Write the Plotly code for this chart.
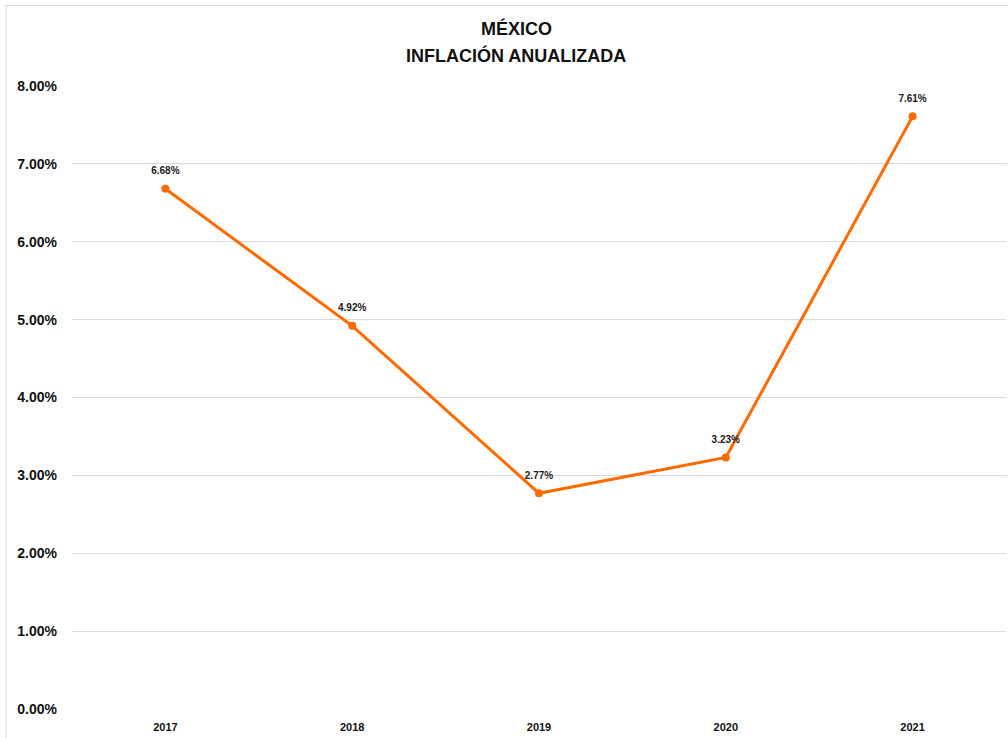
import plotly.graph_objects as go

years = ["2017", "2018", "2019", "2020", "2021"]
inflation = [6.68, 4.92, 2.77, 3.23, 7.61]
y_ticks = [0, 1, 2, 3, 4, 5, 6, 7, 8]
y_tick_labels = ["0.00%", "1.00%", "2.00%", "3.00%", "4.00%", "5.00%", "6.00%", "7.00%", "8.00%"]
title_lines = ["MÉXICO", "INFLACIÓN ANUALIZADA"]

W, H = 1008, 738
L, R, T, B = 72, 2, 86, 29
pw, ph = W - L - R, H - T - B

font = "Liberation Sans, Arial, sans-serif"
orange = "#FF6A00"

fig = go.Figure()
fig.add_trace(go.Scatter(
    x=years, y=inflation,
    mode="lines+markers",
    line=dict(color=orange, width=3),
    marker=dict(color=orange, size=8),
    cliponaxis=False,
    hoverinfo="skip",
))
# data labels (transparent large markers push the text upwards)
fig.add_trace(go.Scatter(
    x=years, y=inflation,
    mode="markers+text",
    marker=dict(color="rgba(0,0,0,0)", size=18),
    text=[f"<b>{v:.2f}%</b>" for v in inflation],
    textposition="top center",
    textfont=dict(family=font, size=10, color="#1a1a1a"),
    cliponaxis=False,
    hoverinfo="skip",
))

annotations = []
for i, line in enumerate(title_lines):
    annotations.append(dict(
        x=(516 - L) / pw, xref="paper", xanchor="center",
        y=1 + (T - (29 + 27 * i)) / ph, yref="paper", yanchor="middle",
        text=f"<b>{line}</b>", showarrow=False,
        font=dict(family=font, size=18, color="#111111"),
    ))

fig.update_layout(
    width=W, height=H,
    margin=dict(l=L, r=R, t=T, b=B),
    paper_bgcolor="white", plot_bgcolor="white",
    showlegend=False,
    xaxis=dict(
        type="category", range=[-0.5, 4.5],
        showgrid=False, zeroline=False, showline=False,
        ticks="", tickfont=dict(family=font, size=11, color="#111111", weight="bold"),
        ticklabelstandoff=10,
    ),
    yaxis=dict(
        range=[0, 8], tickvals=y_ticks, ticktext=y_tick_labels,
        showgrid=True, gridcolor="#D9D9D9", gridwidth=1,
        zeroline=False, showline=False, ticks="",
        tickfont=dict(family=font, size=14, color="#111111", weight="bold"),
        ticklabelstandoff=14,
    ),
    annotations=annotations,
    shapes=[dict(
        type="rect", xref="paper", yref="paper",
        x0=(6 - L) / pw, x1=1.2, y0=-0.3, y1=1 + (T - 5.5) / ph,
        line=dict(color="#D9D9D9", width=1), fillcolor="rgba(0,0,0,0)",
        layer="below",
    )],
)

fig.write_html("out.html", config={"displayModeBar": False},
               post_script="document.body.style.margin='0';")
